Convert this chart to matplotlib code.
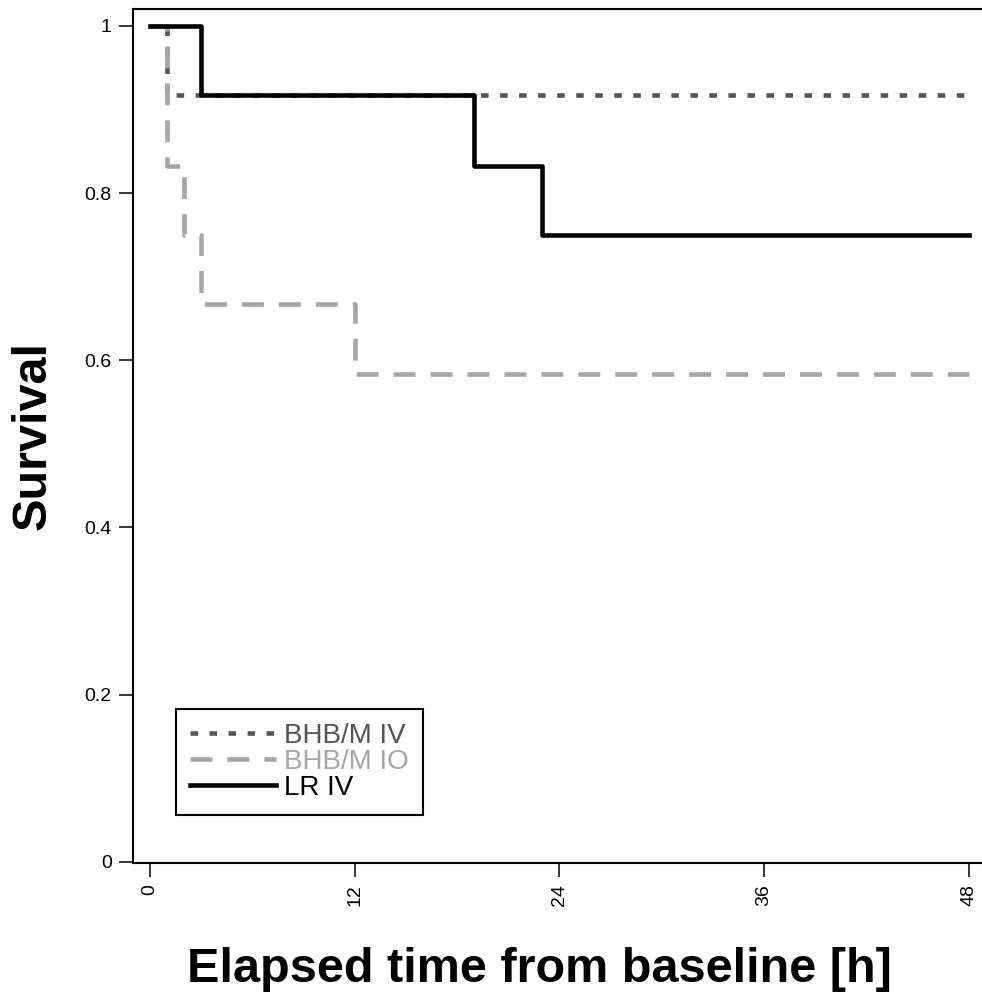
import matplotlib
matplotlib.use("Agg")
import matplotlib.pyplot as plt

plt.rcParams['font.family'] = ['Liberation Sans', 'DejaVu Sans']
plt.rcParams['lines.scale_dashes'] = False

# Kaplan-Meier steps (hours, survival fraction)
t_bhbm_iv = [0, 1, 48]
s_bhbm_iv = [1.0, 0.917, 0.917]
t_bhbm_io = [0, 1, 2, 3, 12, 48]
s_bhbm_io = [1.0, 0.833, 0.75, 0.667, 0.583, 0.583]
t_lr_iv = [0, 3, 19, 23, 48]
s_lr_iv = [1.0, 0.917, 0.833, 0.75, 0.75]

labels = ['BHB/M IV', 'BHB/M IO', 'LR IV']
colors = ['#555555', '#a6a6a6', '#000000']
xticks = [0, 12, 24, 36, 48]
yticks = [0, 0.2, 0.4, 0.6, 0.8, 1]
yticklabels = ['0', '0.2', '0.4', '0.6', '0.8', '1']

W, H = 982, 993
fig = plt.figure(figsize=(W / 100, H / 100), dpi=100)
ax = fig.add_axes([132.5 / W, (H - 863) / H, (W - 132.5) / W, (863 - 9) / H])

lw = 3.3
l1, = ax.step(t_bhbm_iv, s_bhbm_iv, where='post', color=colors[0], lw=lw,
              dashes=(5.4, 8.3), label=labels[0])
l2, = ax.step(t_bhbm_io, s_bhbm_io, where='post', color=colors[1], lw=lw,
              dashes=(15.8, 10.8), label=labels[1])
l3, = ax.step(t_lr_iv, s_lr_iv, where='post', color=colors[2], lw=lw,
              label=labels[2])

ax.set_xlim(-1.03, 48.77)
ax.set_ylim(-0.0016, 1.0203)

ax.set_xticks(xticks)
ax.set_xticklabels([str(x) for x in xticks], rotation=90, fontsize=14)
ax.set_yticks(yticks)
ax.set_yticklabels(yticklabels, fontsize=14)
ax.tick_params(axis='both', length=10, width=1.1, pad=5, direction='out')

ax.spines['right'].set_visible(False)
for s in ['left', 'bottom', 'top']:
    ax.spines[s].set_linewidth(1.5)

leg = ax.legend(handles=[l1, l2, l3], loc='lower left',
                bbox_to_anchor=(176 / W, (H - 815) / H),
                bbox_transform=fig.transFigure, fontsize=20,
                handlelength=3.1, handletextpad=0.29, labelspacing=0.0,
                borderpad=0.5, borderaxespad=0, fancybox=False,
                framealpha=1, edgecolor='black')
leg.get_frame().set_linewidth(1.5)
for txt, c in zip(leg.get_texts(), colors):
    txt.set_color(c)

fig.text(33 / W, 1 - 436 / H, 'Survival', rotation=90, ha='center',
         va='center', fontsize=35, fontweight='bold')
fig.text(539 / W, 1 - 969 / H, 'Elapsed time from baseline [h]',
         ha='center', va='center', fontsize=35, fontweight='bold')

fig.savefig('out.png', dpi=100)
